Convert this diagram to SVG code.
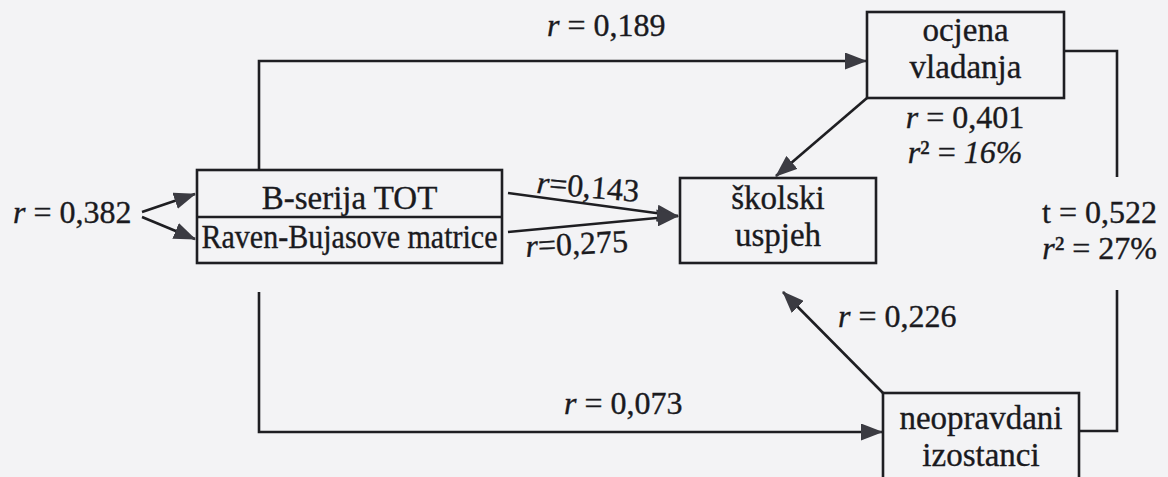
<svg xmlns="http://www.w3.org/2000/svg" width="1168" height="477" viewBox="0 0 1168 477">
<style>
.bg{fill:#f3f3f5}
.box{fill:none;stroke:#1e1e22;stroke-width:2.6}
.ln{fill:none;stroke:#1e1e22;stroke-width:2.6}
.t{font-family:"Liberation Serif","Times New Roman",serif;font-size:32px;fill:#1a1a1e;stroke:#1a1a1e;stroke-width:0.35}
.n{font-size:33px}
.c{text-anchor:middle}
.e{text-anchor:end}
.i{font-style:italic}
</style>
<defs>
<marker id="ah" markerUnits="userSpaceOnUse" markerWidth="22" markerHeight="17" viewBox="0 0 22 17" refX="21" refY="8.5" orient="auto">
<path d="M0,0 L22,8.5 L0,17 z" fill="#3b3b42"/>
</marker>
</defs>
<rect class="bg" x="0" y="0" width="1168" height="477"/>

<g id="connectors">
<path class="ln" d="M142,212 L195,194" marker-end="url(#ah)"/>
<path class="ln" d="M142,217 L195,239" marker-end="url(#ah)"/>
<path class="ln" d="M259,170 L259,61 L866,61" marker-end="url(#ah)"/>
<path class="ln" d="M259,292 L259,432 L882,432" marker-end="url(#ah)"/>
<path class="ln" d="M508,193 L678,216" marker-end="url(#ah)"/>
<path class="ln" d="M508,232 L678,216" marker-end="url(#ah)"/>
<path class="ln" d="M867,98 L776,176" marker-end="url(#ah)"/>
<path class="ln" d="M883,393 L783,292" marker-end="url(#ah)"/>
<path class="ln" d="M1064,51 L1117,51 L1117,177"/>
<path class="ln" d="M1117,290 L1117,431 L1079,431"/>
<text class="t" x="13" y="223"><tspan class="i">r</tspan> = 0,382</text>
<text class="t" x="547" y="36"><tspan class="i">r</tspan> = 0,189</text>
<text class="t" x="536" y="193" transform="rotate(5 536 193)"><tspan class="i">r</tspan>=0,143</text>
<text class="t" x="526" y="257" transform="rotate(-3 526 257)"><tspan class="i">r</tspan>=0,275</text>
<text class="t c" x="965" y="128"><tspan class="i">r</tspan> = 0,401</text>
<text class="t c" x="965" y="163"><tspan class="i">r</tspan>² = <tspan class="i">16%</tspan></text>
<text class="t e" x="1157" y="223">t = 0,522</text>
<text class="t e" x="1157" y="259"><tspan class="i">r</tspan>² = 27%</text>
<text class="t" x="838" y="327"><tspan class="i">r</tspan> = 0,226</text>
<text class="t" x="564" y="414"><tspan class="i">r</tspan> = 0,073</text>
</g>

<g id="node-tests">
<rect class="box" x="197" y="170" width="305" height="93"/>
<line class="box" x1="197" y1="217" x2="502" y2="217"/>
<text class="t c" x="349.5" y="209" style="font-size:33px">B-serija TOT</text>
<text class="t c" x="349.5" y="248" style="font-size:33px" textLength="296" lengthAdjust="spacingAndGlyphs">Raven-Bujasove matrice</text>
</g>

<g id="node-ocjena">
<rect class="box" x="867" y="12" width="197" height="86"/>
<text class="t n c" x="965.5" y="41">ocjena</text>
<text class="t n c" x="965.5" y="78">vladanja</text>
</g>

<g id="node-skolski">
<rect class="box" x="680" y="178" width="196" height="85"/>
<text class="t n c" x="778" y="209">školski</text>
<text class="t n c" x="778" y="246">uspjeh</text>
</g>

<g id="node-neopravdani">
<rect class="box" x="883" y="393" width="196" height="100"/>
<text class="t n c" x="981" y="429">neopravdani</text>
<text class="t n c" x="981" y="466">izostanci</text>
</g>
</svg>
